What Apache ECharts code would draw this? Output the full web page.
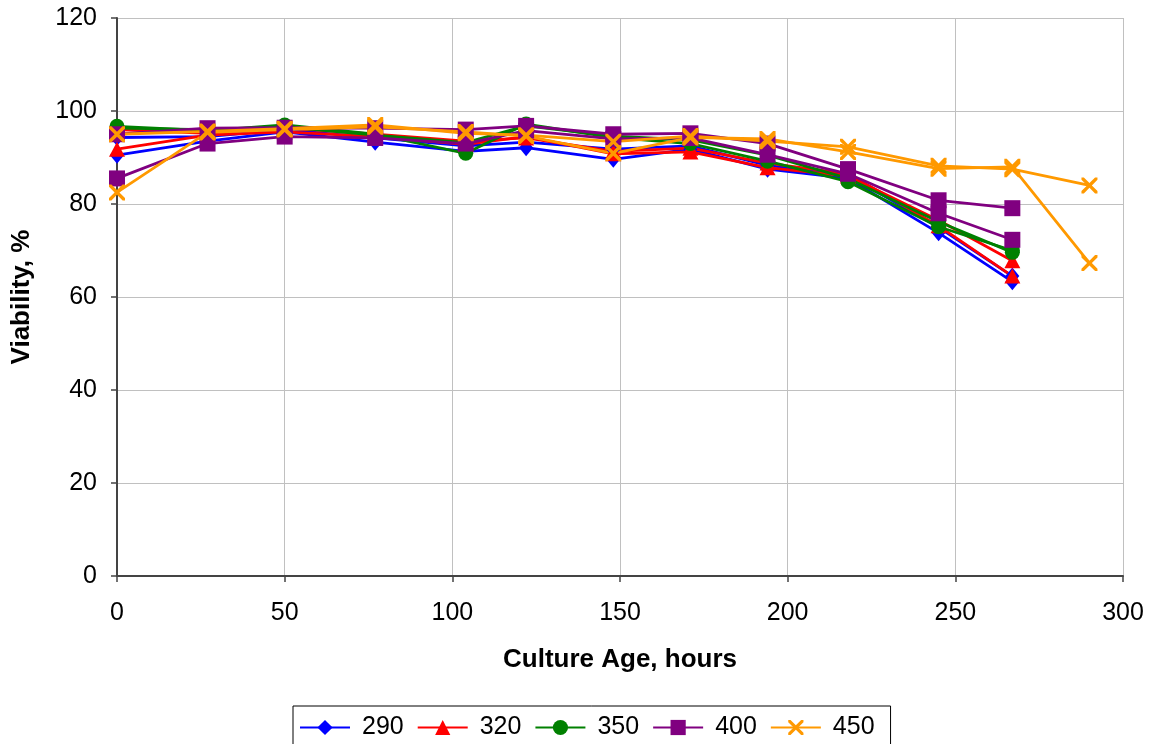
<!DOCTYPE html>
<html>
<head>
<meta charset="utf-8">
<script src="https://cdn.jsdelivr.net/npm/echarts@6/dist/echarts.min.js"></script>
<style>
  html, body { margin: 0; padding: 0; background: #ffffff; }
  #chart { width: 1156px; height: 744px; }
</style>
</head>
<body>
<div id="chart"></div>
<script>
// Sampling times (hours of culture age)
const hours = [0, 27, 50, 77, 104, 122, 148, 171, 194, 218, 245, 267, 290];

// Viability (%) for each condition, two replicate runs each
const v290a = [90.5, 93.5, 95.5, 93.3, 91.3, 92.1, 89.6, 91.8, 87.5, 85.5, 73.8, 63.3];
const v290b = [94.3, 94.5, 96.0, 94.2, 92.5, 93.3, 91.8, 92.5, 88.3, 86.2, 75.0, 64.5];
const v320a = [91.8, 94.8, 95.5, 94.5, 92.8, 94.5, 90.8, 91.2, 87.8, 86.0, 76.5, 67.8];
const v320b = [96.0, 95.2, 96.4, 95.0, 93.5, 94.2, 91.3, 92.0, 88.8, 86.5, 75.3, 64.5];
const v350a = [96.7, 95.8, 97.0, 95.0, 90.9, 97.2, 94.3, 93.0, 89.2, 84.8, 75.1, 70.0];
const v350b = [96.3, 96.0, 96.6, 94.8, 93.2, 96.8, 94.6, 93.8, 90.5, 85.5, 76.2, 69.6];
const v400a = [95.0, 96.3, 96.4, 96.3, 96.0, 96.8, 95.0, 95.2, 93.0, 87.5, 80.8, 79.1];
const v400b = [85.5, 93.0, 94.5, 94.2, 93.0, 95.8, 94.0, 94.2, 90.6, 86.5, 78.0, 72.3];
const v450a = [95.0, 95.6, 96.2, 97.0, 95.2, 94.8, 93.4, 94.6, 93.5, 92.3, 88.2, 87.5, 84.0];
const v450b = [82.5, 95.4, 96.0, 96.6, 95.5, 94.6, 90.9, 94.3, 94.0, 91.2, 87.6, 88.0, 67.3];

const legendNames = ['290', '320', '350', '400', '450'];

// Filled X glyph used as the marker of the 450 runs
const xMark = 'path://M0,0 L3,0 L10,7 L17,0 L20,0 L20,3 L13,10 L20,17 L20,20 L17,20 L10,13 L3,20 L0,20 L0,17 L7,10 L0,3 Z';

const styles = {
  '290': { color: '#0000ff', symbol: 'diamond', size: [14, 17] },
  '320': { color: '#ff0000', symbol: 'triangle', size: [16, 15] },
  '350': { color: '#008000', symbol: 'circle', size: 15 },
  '400': { color: '#800080', symbol: 'rect', size: 16 },
  '450': { color: '#ff9900', symbol: xMark, size: 16 }
};

function pairs(vals) {
  return vals.map((v, i) => [hours[i], v]);
}

function makeSeries(name, vals) {
  const s = styles[name];
  return {
    name: name,
    type: 'line',
    data: pairs(vals),
    symbol: s.symbol,
    symbolSize: s.size,
    showAllSymbol: true,
    color: s.color,
    lineStyle: { color: s.color, width: 2.8 },
    itemStyle: { color: s.color },
    emphasis: { disabled: true },
    animation: false
  };
}

const series = [
  makeSeries('290', v290a), makeSeries('290', v290b),
  makeSeries('320', v320a), makeSeries('320', v320b),
  makeSeries('350', v350a), makeSeries('350', v350b),
  makeSeries('400', v400a), makeSeries('400', v400b),
  makeSeries('450', v450a), makeSeries('450', v450b)
];

const font = '"Liberation Sans", Arial, sans-serif';

const chart = echarts.init(document.getElementById('chart'), null, { renderer: 'canvas' });
chart.setOption({
  backgroundColor: '#ffffff',
  animation: false,
  grid: { left: 117, right: 33, top: 18, bottom: 168, containLabel: false },
  xAxis: {
    type: 'value',
    min: 0, max: 300, interval: 50,
    name: 'Culture Age, hours',
    nameLocation: 'middle',
    nameGap: 71,
    nameTextStyle: { fontFamily: font, fontSize: 26, fontWeight: 'bold', color: '#000' },
    axisLine: { show: true, lineStyle: { color: '#444444', width: 2 } },
    axisTick: { show: true, length: 6, lineStyle: { color: '#444444', width: 1.5 } },
    axisLabel: { fontFamily: font, fontSize: 25, color: '#000', margin: 25 },
    splitLine: { show: true, lineStyle: { color: '#c0c0c0', width: 1 } }
  },
  yAxis: {
    type: 'value',
    min: 0, max: 120, interval: 20,
    name: 'Viability, %',
    nameLocation: 'middle',
    nameGap: 82,
    nameRotate: 90,
    nameTextStyle: { fontFamily: font, fontSize: 26, fontWeight: 'bold', color: '#000' },
    axisLine: { show: true, lineStyle: { color: '#444444', width: 2 } },
    axisTick: { show: true, length: 6, lineStyle: { color: '#444444', width: 1.5 } },
    axisLabel: { fontFamily: font, fontSize: 25, color: '#000', margin: 20 },
    splitLine: { show: true, lineStyle: { color: '#c0c0c0', width: 1 } }
  },
  legend: {
    data: legendNames,
    left: 293,
    top: 706,
    orient: 'horizontal',
    backgroundColor: '#ffffff',
    borderColor: '#000000',
    borderWidth: 1,
    borderRadius: 0,
    padding: [9, 16, 12, 6],
    itemWidth: 50,
    itemHeight: 19,
    itemGap: 13,
    selectedMode: false,
    textStyle: { fontFamily: font, fontSize: 25, color: '#000', padding: [0, 0, 0, 7] }
  },
  series: series
});
</script>
</body>
</html>
